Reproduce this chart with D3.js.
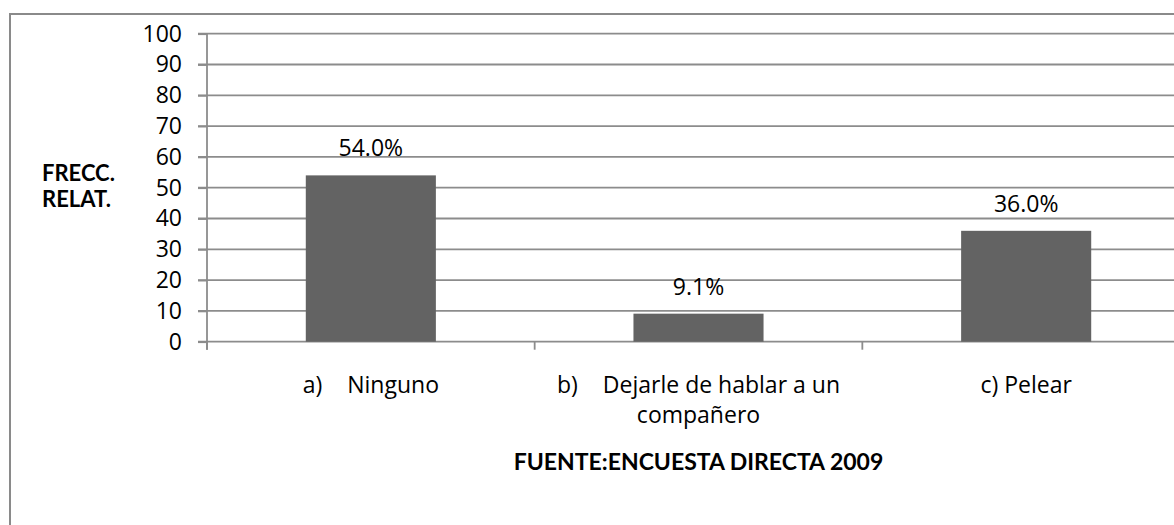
<!DOCTYPE html>
<meta charset="utf-8">
<script src="https://d3js.org/d3.v7.min.js"></script>
<style>
body { margin: 0; background: #fff; }
text { font-family: "Open Sans", Lato, sans-serif; fill: #000; }
.bold { font-family: Lato, "Open Sans", sans-serif; font-weight: bold; }
</style>
<div id="main"></div>
<script>

// data
const categories = [
  ["a)\tNinguno"],
  ["b)\tDejarle de hablar a un", "compañero"],
  ["c) Pelear"]
];
const values = [54.0, 9.1, 36.0];
const yTicks = [0, 10, 20, 30, 40, 50, 60, 70, 80, 90, 100];
const yTitle = ["FRECC.", "RELAT."];
const source = "FUENTE:ENCUESTA DIRECTA 2009";

const width = 1174, height = 525;
const plot = {left: 207, right: 1190, top: 33.7, bottom: 341.7};
const grid = "#8c8c8c";
const fs = 23;

const svg = d3.select("#main").append("svg")
    .attr("width", width)
    .attr("height", height);

// outer chart frame (cut off at right and bottom in the original)
svg.append("rect")
    .attr("x", 10).attr("y", 14)
    .attr("width", 1300).attr("height", 700)
    .attr("fill", "none")
    .attr("stroke", "#8a8a8a")
    .attr("stroke-width", 2);

let x = d3.scaleBand()
    .domain(d3.range(categories.length))
    .range([plot.left, plot.right])
    .paddingInner(0.603)
    .paddingOuter(0.3015);

let y = d3.scaleLinear()
    .domain([0, 100])
    .range([plot.bottom, plot.top]);

// gridlines
svg.append("g")
  .selectAll("line")
  .data(yTicks)
  .enter().append("line")
    .attr("x1", plot.left - 9)
    .attr("x2", plot.right)
    .attr("y1", d => y(d))
    .attr("y2", d => y(d))
    .attr("stroke", grid)
    .attr("stroke-width", 1.8);

// y axis
let yAxis = svg.append("g")
    .attr("transform", "translate(" + plot.left + ",0)")
    .call(d3.axisLeft(y).tickValues(yTicks).tickSize(9).tickSizeOuter(0).tickPadding(16));
yAxis.select(".domain").attr("stroke", grid).attr("stroke-width", 1.8)
    .attr("d", "M0," + y(100) + "V" + (plot.bottom + 8));
yAxis.selectAll(".tick line").attr("stroke", grid).attr("stroke-width", 1.8);
yAxis.selectAll(".tick text")
    .attr("font-family", "'Open Sans', sans-serif")
    .attr("font-size", fs)
    .attr("fill", "#000");

// category separators below the axis
const bounds = d3.range(categories.length + 1).map(i => plot.left + i * x.step());
svg.append("g")
  .selectAll("line")
  .data(bounds)
  .enter().append("line")
    .attr("x1", d => d).attr("x2", d => d)
    .attr("y1", plot.bottom).attr("y2", plot.bottom + 8)
    .attr("stroke", grid)
    .attr("stroke-width", 1.8);

// bars
svg.append("g")
  .selectAll("rect")
  .data(values)
  .enter().append("rect")
    .attr("x", (d, i) => x(i))
    .attr("y", d => y(d))
    .attr("width", x.bandwidth())
    .attr("height", d => y(0) - y(d))
    .attr("fill", "#636363");

// value labels
svg.append("g")
  .selectAll("text")
  .data(values)
  .enter().append("text")
    .attr("x", (d, i) => x(i) + x.bandwidth() / 2)
    .attr("y", d => y(d) - 19)
    .attr("text-anchor", "middle")
    .attr("font-size", fs)
    .text(d => d3.format(".1f")(d) + "%");

// category labels (tab rendered as a gap)
let cat = svg.append("g")
  .selectAll("text")
  .data(categories)
  .enter().append("text")
    .attr("text-anchor", "middle")
    .attr("font-size", fs);

cat.each(function(lines, i) {
  let t = d3.select(this);
  let cx = x(i) + x.bandwidth() / 2;
  lines.forEach(function(line, j) {
    let parts = line.split("\t");
    parts.forEach(function(p, k) {
      let ts = t.append("tspan").text(p);
      if (k === 0) ts.attr("x", cx).attr("y", 393 + j * 30);
      else ts.attr("dx", 25);
    });
  });
});

// y title
svg.append("text")
    .attr("class", "bold")
    .attr("font-size", 22)
  .selectAll("tspan")
  .data(yTitle)
  .enter().append("tspan")
    .attr("x", 42)
    .attr("y", (d, i) => 181 + i * 26)
    .text(d => d);

// source
svg.append("text")
    .attr("class", "bold")
    .attr("x", (plot.left + plot.right) / 2)
    .attr("y", 470)
    .attr("text-anchor", "middle")
    .attr("font-size", 23)
    .text(source);

</script>
